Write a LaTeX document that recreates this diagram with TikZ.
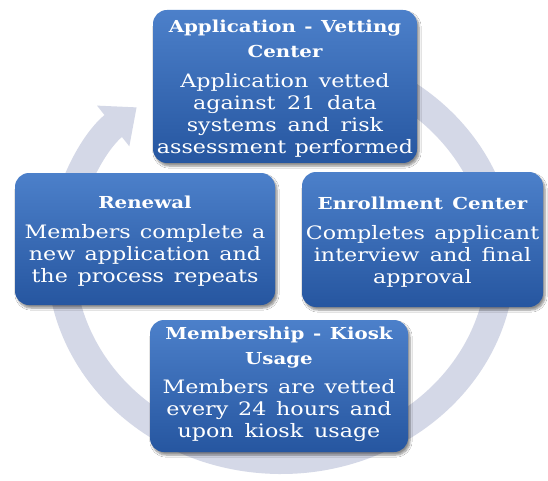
\documentclass[tikz,border=0pt]{standalone}
\usepackage{fontspec}
\setmainfont{DejaVu Serif}[FakeStretch=1.2]
\usetikzlibrary{arrows.meta,shadows.blur}

\definecolor{boxtop}{RGB}{76,128,202}
\definecolor{boxbot}{RGB}{38,86,160}
\definecolor{ringcol}{RGB}{212,216,231}

\newcommand\cyclehead{\fontsize{16.5}{25}\bfseries\selectfont
  \spaceskip=0.34em plus 0.1em minus 0.05em\relax}
\newcommand\cyclebody{\fontsize{18.5}{22}\selectfont
  \spaceskip=0.34em plus 0.1em minus 0.05em\relax}

\tikzset{
  stagebox/.style={draw=none, rounded corners=14pt,
    top color=boxtop, bottom color=boxbot, inner sep=0pt,
    blur shadow={shadow xshift=2pt, shadow yshift=-3pt,
      shadow blur steps=6, shadow opacity=45}},
  stagetext/.style={text=white, align=center, inner sep=0pt,
    text width=300pt},
  ringarrow/.style={ringcol, line width=28pt,
    -{Triangle[width=50pt,length=30pt]}}
}

\begin{document}
\begin{tikzpicture}[x=1pt,y=-1pt]
  \useasboundingbox[fill=white] (0,0) rectangle (548,481);

  % circular arrow running clockwise behind the four stages
  \coordinate (ringc) at (281,259);
  \draw[ringarrow] (ringc) ++(-85:220 and 201)
    arc[start angle=-85, end angle=229, x radius=220, y radius=201];

  % stage boxes
  \node[stagebox, minimum width=264pt, minimum height=153pt] (vet) at (285,86.5) {};
  \node[stagebox, minimum width=241pt, minimum height=135pt] (enroll) at (422.5,239.5) {};
  \node[stagebox, minimum width=258pt, minimum height=132pt] (member) at (279,386) {};
  \node[stagebox, minimum width=260pt, minimum height=132pt] (renew) at (145,239) {};

  % stage texts
  \node[stagetext] (vettext) at ([yshift=-2pt]vet.center)
    {{\cyclehead Application - Vetting\\Center\par}\vspace{8pt}
     {\cyclebody Application vetted\\against 21 data\\systems and risk\\assessment performed\par}};

  \node[stagetext] (enrolltext) at ([yshift=-3pt]enroll.center)
    {{\cyclehead Enrollment Center\par}\vspace{8pt}
     {\cyclebody Completes applicant\\interview and final\\approval\par}};

  \node[stagetext] (membertext) at ([yshift=2pt]member.center)
    {{\cyclehead Membership - Kiosk\\Usage\par}\vspace{7pt}
     {\cyclebody Members are vetted\\every 24 hours and\\upon kiosk usage\par}};

  \node[stagetext] (renewtext) at ([yshift=-2pt]renew.center)
    {{\cyclehead Renewal\par}\vspace{8pt}
     {\cyclebody Members complete a\\new application and\\the process repeats\par}};
\end{tikzpicture}
\end{document}
